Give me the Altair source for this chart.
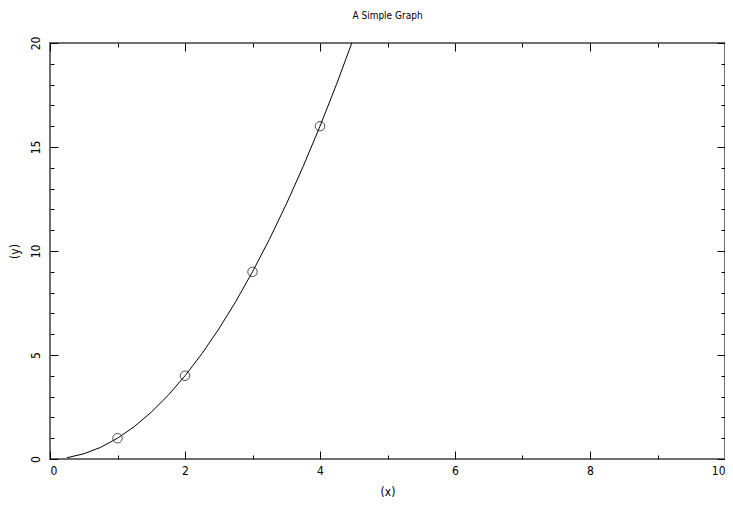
import altair as alt
import pandas as pd

# curve (y ≈ x², clipped at top)
curve_x = [0.25, 0.5, 0.75, 1.0, 1.25, 1.5, 1.75, 2.0, 2.25, 2.5, 2.75, 3.0,
           3.25, 3.5, 3.75, 4.0, 4.25, 4.5]
curve_y = [0.06, 0.25, 0.56, 1.0, 1.56, 2.25, 3.06, 4.0, 5.06, 6.25, 7.56, 9.0,
           10.56, 12.25, 14.06, 16.0, 18.06, 20.25]
pts_x = [1, 2, 3, 4]
pts_y = [1, 4, 9, 16]

x_major = [0, 2, 4, 6, 8, 10]
x_minor = [1, 3, 5, 7, 9]
y_major = [0, 5, 10, 15, 20]
y_minor = [1, 2, 3, 4, 6, 7, 8, 9, 11, 12, 13, 14, 16, 17, 18, 19]

W, H = 675, 416
FONT = "DejaVu Sans Condensed, DejaVu Sans"

curve = pd.DataFrame({"x": curve_x, "y": curve_y})
pts = pd.DataFrame({"x": pts_x, "y": pts_y})

xs = alt.Scale(domain=[0, 10], nice=False, zero=False)
ys = alt.Scale(domain=[0, 20], nice=False, zero=False)


def tick_axis(orient, offset, values, size):
    return alt.Axis(orient=orient, offset=offset, values=values, tickSize=size,
                    labels=False, domain=False, grid=False, title=None,
                    tickColor="#000000", tickWidth=1)


line = alt.Chart(curve).mark_line(color="black", strokeWidth=1, clip=True).encode(
    x=alt.X("x:Q", scale=xs, axis=alt.Axis(
        orient="bottom", values=x_major, tickSize=0, grid=False, title="(x)",
        labelPadding=6, titlePadding=10, domain=False)),
    y=alt.Y("y:Q", scale=ys, axis=alt.Axis(
        orient="left", values=y_major, tickSize=0, grid=False, title="(y)",
        labelAngle=-90, labelPadding=8, titlePadding=8, domain=False)),
)

points = alt.Chart(pts).mark_point(shape="circle", filled=False, color="black",
                                   size=90, strokeWidth=1).encode(
    x=alt.X("x:Q", scale=xs, axis=None),
    y=alt.Y("y:Q", scale=ys, axis=None),
)


def ghost(xa, ya):
    return alt.Chart(pts).mark_point(opacity=0).encode(
        x=alt.X("x:Q", scale=xs, axis=xa),
        y=alt.Y("y:Q", scale=ys, axis=ya),
    )


t1 = ghost(tick_axis("top", -H, x_minor, 4), tick_axis("right", -W, y_minor, 4))
t2 = ghost(tick_axis("top", -H, x_major, 8), tick_axis("right", -W, y_major, 8))
t3 = ghost(tick_axis("bottom", -H, x_minor, 4), tick_axis("left", -W, y_minor, 4))
t4 = ghost(tick_axis("bottom", -H, x_major, 8), tick_axis("left", -W, y_major, 8))

chart = alt.layer(line, points, t1, t2, t3, t4).resolve_axis(
    x="independent", y="independent"
).properties(
    width=W, height=H,
    title=alt.Title("A Simple Graph", fontSize=10, fontWeight="normal",
                    font=FONT, color="black", offset=15),
    autosize=alt.AutoSizeParams(type="none"),
    padding={"left": 42, "top": 35, "right": 0, "bottom": 40},
).configure_view(
    stroke="#707070", strokeWidth=2
).configure_axis(
    labelFont=FONT, labelFontSize=12, labelColor="black",
    titleFont=FONT, titleFontSize=12, titleColor="black", titleFontWeight="normal",
)

chart.save("out.html", embed_options={"renderer": "svg", "actions": False})
